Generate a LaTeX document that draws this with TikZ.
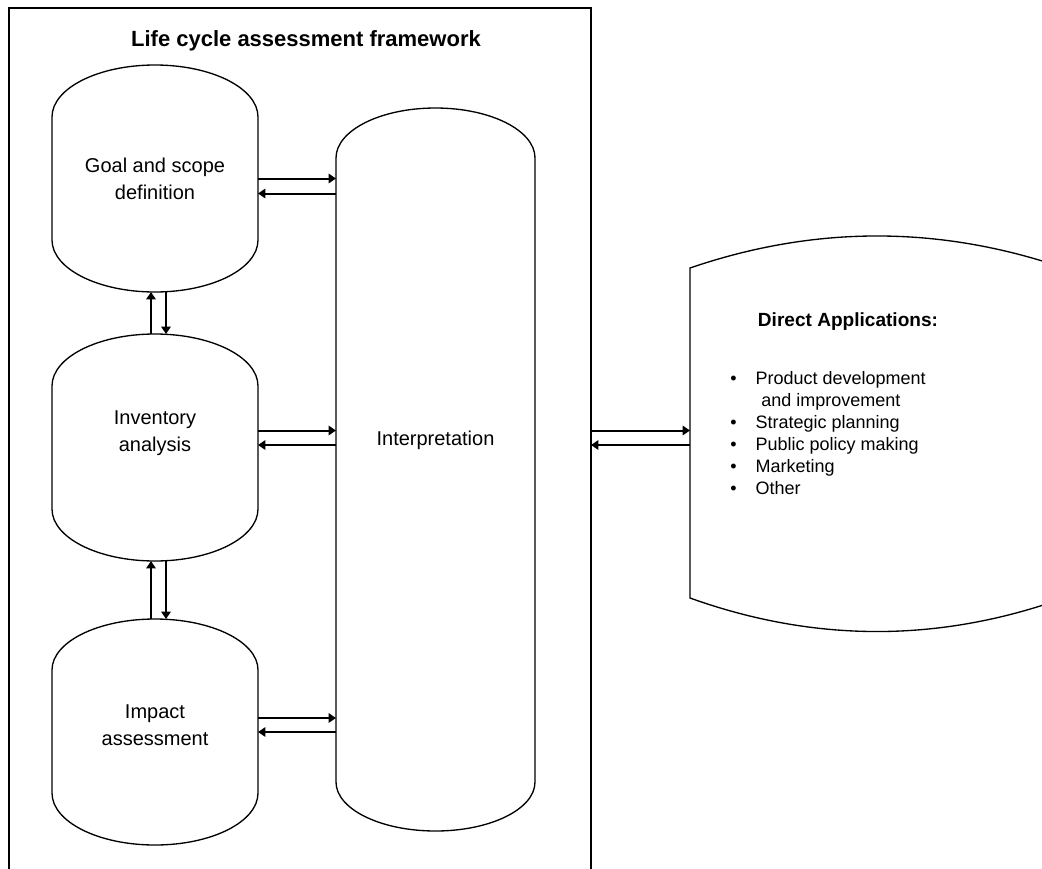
\documentclass[tikz,border=0pt]{standalone}
\usepackage{fontspec}
\setmainfont{Liberation Sans}
\usetikzlibrary{arrows.meta,calc,fit}

% can-shaped box: name, left, right, top apex, side top, side bottom, bottom apex
\newcommand\canbox[7]{%
  \draw[outline] (#2,-#5)
    arc[start angle=180,end angle=0,x radius={(#3-#2)/2},y radius={#5-#4}]
    -- (#3,-#6)
    arc[start angle=0,end angle=-180,x radius={(#3-#2)/2},y radius={#7-#6}]
    -- cycle;
  \node[area,fit={(#2,-#4) (#3,-#7)}] (#1) {};
}

\begin{document}
\begin{tikzpicture}[x=0.75pt,y=0.75pt,
  outline/.style={draw=black,line width=1pt},
  link/.style={draw=black,line width=1.5pt,-{Triangle[length=5.5pt,width=7pt]}},
  area/.style={inner sep=0pt,outer sep=0pt},
  boxtext/.style={font=\fontsize{15pt}{20.25pt}\selectfont,align=center,inner sep=0pt},
  listtext/.style={font=\fontsize{13.5pt}{17pt}\selectfont,anchor=base west,inner sep=0pt},
  ]
\fill[white] (0,0) rectangle (1042,-868);
\useasboundingbox (0,0) rectangle (1042,-868);
\clip (0,0) rectangle (1042,-868);

% framework frame and its title
\node[area,draw=black,line width=1.5pt,fit={(9,-8) (591,-900)}] (frame) {};
\node[font=\bfseries\fontsize{16.5pt}{20pt}\selectfont,anchor=base] (title) at (306,-46)
  {Life cycle assessment framework};

% the four phases
\canbox{goal}{52}{258}{65}{117}{240}{292}
\canbox{inv}{52}{258}{334}{386}{509}{561}
\canbox{impact}{52}{258}{619}{670}{793}{845}
\canbox{interp}{336}{535}{108}{158}{782}{831}
\node[boxtext] (goaltext) at (goal.center) {Goal and scope\\definition};
\node[boxtext] (invtext) at ($(inv.center)+(0,14)$) {Inventory\\analysis};
\node[boxtext] (impacttext) at ($(impact.center)+(0,7)$) {Impact\\assessment};
\node[boxtext] (interptext) at (435.5,-440) {Interpretation};

% direct applications
\draw[outline] (690,-268) .. controls (814.7,-225.3) and (939.3,-225.3) .. (1064,-268)
  -- (1064,-598) .. controls (939.3,-642.7) and (814.7,-642.7) .. (690,-598) -- cycle;
\node[area,fit={(690,-236) (1064,-632)}] (da) {};
\node[font=\bfseries\fontsize{14.3pt}{18pt}\selectfont,anchor=base] (dahead) at (848,-326)
  {Direct Applications:};
\node[listtext] (app1) at (730,-384) {\makebox[19pt][l]{•}Product development};
\node[listtext] (app2) at (761,-406) {and improvement};
\node[listtext] (app3) at (730,-428) {\makebox[19pt][l]{•}Strategic planning};
\node[listtext] (app4) at (730,-450) {\makebox[19pt][l]{•}Public policy making};
\node[listtext] (app5) at (730,-472) {\makebox[19pt][l]{•}Marketing};
\node[listtext] (app6) at (730,-494) {\makebox[19pt][l]{•}Other};

% phases <-> interpretation
\draw[link] (goal.east) -- (goal.east -| interp.west);
\coordinate (g2) at ($(goal.east)+(0,-15)$);
\draw[link] (g2 -| interp.west) -- (g2);

\coordinate (i1) at ($(inv.east)+(0,17)$);
\draw[link] (i1) -- (i1 -| interp.west);
\coordinate (i2) at ($(i1)+(0,-14.5)$);
\draw[link] (i2 -| interp.west) -- (i2);

\coordinate (m1) at ($(impact.east)+(0,14)$);
\draw[link] (m1) -- (m1 -| interp.west);
\draw[link] (impact.east -| interp.west) -- (impact.east);

% framework <-> direct applications
\coordinate (d1) at (i1 -| frame.east);
\draw[link] (d1) -- (d1 -| da.west);
\coordinate (d2) at ($(d1)+(0,-14.5)$);
\draw[link] (d2 -| da.west) -- (d2);

% between the phases
\coordinate (u1) at ($(goal.south)+(-4,0)$);
\coordinate (u2) at ($(inv.north)+(-4,0)$);
\draw[link] (u2) -- (u1);
\coordinate (v1) at ($(goal.south)+(11,0)$);
\coordinate (v2) at ($(inv.north)+(11,0)$);
\draw[link] (v1) -- (v2);

\coordinate (u3) at ($(inv.south)+(-4,0)$);
\coordinate (u4) at ($(impact.north)+(-4,0)$);
\draw[link] (u4) -- (u3);
\coordinate (v3) at ($(inv.south)+(11,0)$);
\coordinate (v4) at ($(impact.north)+(11,0)$);
\draw[link] (v3) -- (v4);
\end{tikzpicture}
\end{document}
